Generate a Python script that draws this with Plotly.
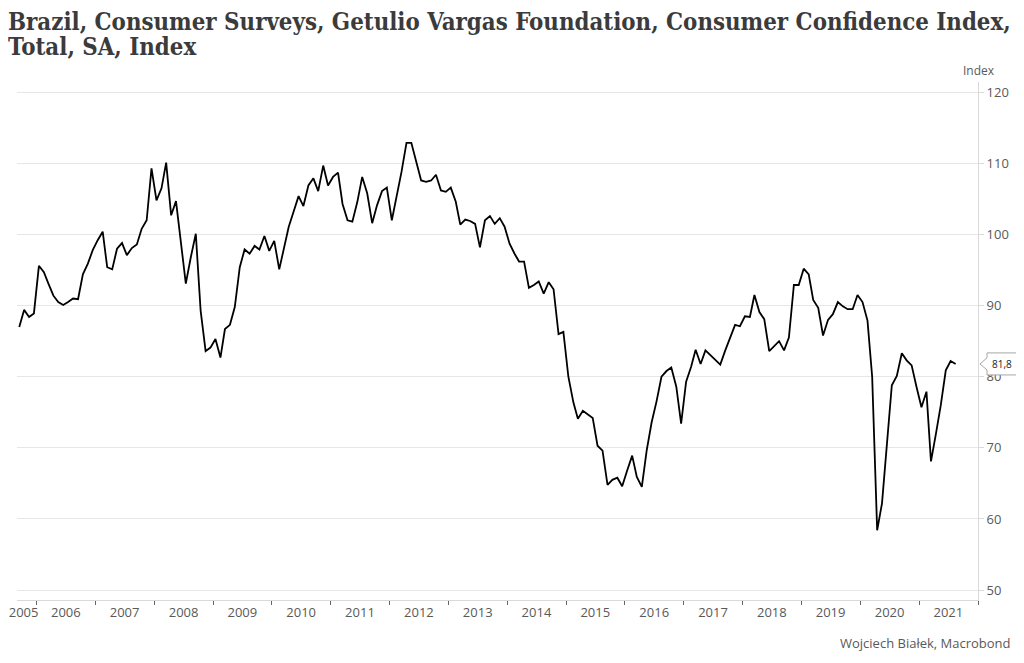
import pandas as pd
import plotly.graph_objects as go

# Monthly values, Sep 2005 .. Aug 2021
start_month = "2005-09-01"
values = [
    87.0, 89.4, 88.4, 88.9, 95.6, 94.7, 93.1, 91.4, 90.5, 90.1, 90.5, 91.0,
    90.9, 94.4, 95.9, 97.8, 99.2, 100.4, 95.4, 95.1, 98.0, 98.8, 97.1, 98.1,
    98.6, 100.8, 102.0, 109.3, 104.8, 106.5, 110.1, 102.7, 104.7, 98.5, 93.1, 96.8,
    100.1, 89.3, 83.6, 84.1, 85.3, 82.7, 86.7, 87.3, 89.8, 95.4, 97.9, 97.3,
    98.4, 97.9, 99.8, 97.7, 99.1, 95.1, 98.0, 101.1, 103.2, 105.4, 104.0, 106.9,
    107.9, 106.1, 109.7, 106.9, 108.1, 108.7, 104.3, 102.0, 101.8, 104.6, 108.1, 105.8,
    101.6, 104.1, 106.1, 106.6, 102.0, 105.3, 108.8, 112.9, 112.9, 110.2, 107.6, 107.4,
    107.6, 108.4, 106.2, 106.0, 106.6, 104.6, 101.4, 102.1, 101.9, 101.5, 98.2, 102.0,
    102.6, 101.5, 102.3, 101.1, 98.7, 97.3, 96.2, 96.2, 92.5, 92.9, 93.4, 91.7,
    93.3, 92.3, 86.0, 86.3, 80.0, 76.4, 74.1, 75.2, 74.7, 74.2, 70.3, 69.6,
    64.8, 65.5, 65.8, 64.6, 66.8, 68.9, 65.9, 64.5, 69.6, 73.6, 76.5, 80.0,
    80.8, 81.3, 78.6, 73.4, 79.3, 81.4, 83.8, 81.8, 83.7, 83.0, 82.4, 81.7,
    83.7, 85.5, 87.3, 87.1, 88.5, 88.4, 91.5, 89.1, 88.1, 83.6, 84.3, 85.0,
    83.7, 85.5, 92.9, 92.9, 95.2, 94.4, 90.8, 89.7, 85.8, 88.0, 88.8, 90.5,
    89.9, 89.5, 89.5, 91.5, 90.5, 87.9, 80.0, 58.4, 62.2, 70.1, 78.8, 80.1,
    83.3, 82.3, 81.6, 78.6, 75.7, 77.9, 68.1, 72.0, 76.0, 80.9, 82.2, 81.8,
]
dates = pd.date_range(start_month, periods=len(values), freq="MS") + pd.Timedelta(days=14)

year_labels = [str(y) for y in range(2005, 2022)]
label_positions = ["2005-10-12"] + [f"{y}-07-01" for y in range(2006, 2022)]
year_bounds = [f"{y}-01-01" for y in range(2006, 2023)]
y_ticks = [50, 60, 70, 80, 90, 100, 110, 120]

title_lines = ["Brazil, Consumer Surveys, Getulio Vargas Foundation, Consumer Confidence Index,",
               "Total, SA, Index"]
source = "Wojciech Białek, Macrobond"

y_min, y_max = 48.6, 121.45
last_val = values[-1]

# page body has an 8px margin; size the figure so it lands on the 1024x663 frame
OFF = 8
W, H = 1024 - OFF, 663 - OFF
# plot area in window pixels: x 17.3..977.7, y 82..600
ML = 17 - OFF
MR = 1024 - 978
MT = 82 - OFF
MB = 663 - 600
plot_w, plot_h = W - ML - MR, H - MT - MB

fig = go.Figure()
fig.add_trace(go.Scatter(x=dates, y=values, mode="lines",
                         line=dict(color="#000000", width=1.8), hoverinfo="skip"))

fig.update_layout(
    width=W, height=H,
    margin=dict(l=ML, r=MR, t=MT, b=MB, autoexpand=False),
    paper_bgcolor="white", plot_bgcolor="white",
    showlegend=False,
    font=dict(family="Open Sans, Noto Sans, sans-serif", color="#595959", size=13),
    xaxis=dict(
        type="date", range=["2005-09-01", "2022-01-01"], automargin=False,
        tickmode="array", tickvals=label_positions, ticktext=year_labels,
        ticklabeloverflow="allow",
        ticks="", showgrid=False, zeroline=False,
        showline=True, linecolor="#d9d9d9", linewidth=1,
        tickfont=dict(size=13, color="#595959"),
        minor=dict(tickmode="array", tickvals=year_bounds, ticks="outside",
                   ticklen=4, tickcolor="#666666", tickwidth=1, showgrid=False),
    ),
    yaxis=dict(
        side="right", range=[y_min, y_max], automargin=False,
        tickmode="array", tickvals=y_ticks,
        showgrid=True, gridcolor="#e6e6e6", gridwidth=1,
        ticks="outside", ticklen=5, tickcolor="#d9d9d9",
        showline=True, linecolor="#d9d9d9", linewidth=1,
        zeroline=False, tickfont=dict(size=13, color="#595959"),
    ),
)

# helpers: window pixel -> paper coords
def px_x(px):
    return (px - OFF - ML) / plot_w

def px_y(py):
    return (H - MB - (py - OFF)) / plot_h

# Title (two lines placed separately for tight leading)
for line, base in zip(title_lines, [30, 55]):
    fig.add_annotation(text=f"<b>{line}</b>", xref="paper", yref="paper",
                       x=px_x(6), y=px_y(base + 8), xanchor="left", yanchor="bottom",
                       showarrow=False, align="left",
                       font=dict(family="DejaVu Serif Condensed, DejaVu Serif, serif",
                                 size=23.8, color="#3b3b3b"))

# Axis unit label
fig.add_annotation(text="Index", xref="paper", yref="paper", x=px_x(979), y=px_y(70),
                   xanchor="center", yanchor="middle", showarrow=False,
                   font=dict(size=12, color="#595959"))
# Source
fig.add_annotation(text=source, xref="paper", yref="paper", x=px_x(1013), y=px_y(643),
                   xanchor="right", yanchor="middle", showarrow=False,
                   font=dict(size=13, color="#595959"))

# Last-value callout
py = (last_val - y_min) / (y_max - y_min)
h = 11.0 / plot_h
tip, bl, br = px_x(980), px_x(987), px_x(1017)
fig.add_shape(type="path", xref="paper", yref="paper",
              path=(f"M {tip},{py} L {bl},{py + h * 0.55} L {bl},{py + h} L {br},{py + h} "
                    f"L {br},{py - h} L {bl},{py - h} L {bl},{py - h * 0.55} Z"),
              line=dict(color="#a6a6a6", width=1), fillcolor="white", layer="above")
fig.add_annotation(text=f"{last_val:.1f}".replace(".", ","), xref="paper", yref="paper",
                   x=(bl + br) / 2, y=py, xanchor="center", yanchor="middle",
                   showarrow=False, font=dict(size=10, color="#222222"))

fig.write_html("out.html")
